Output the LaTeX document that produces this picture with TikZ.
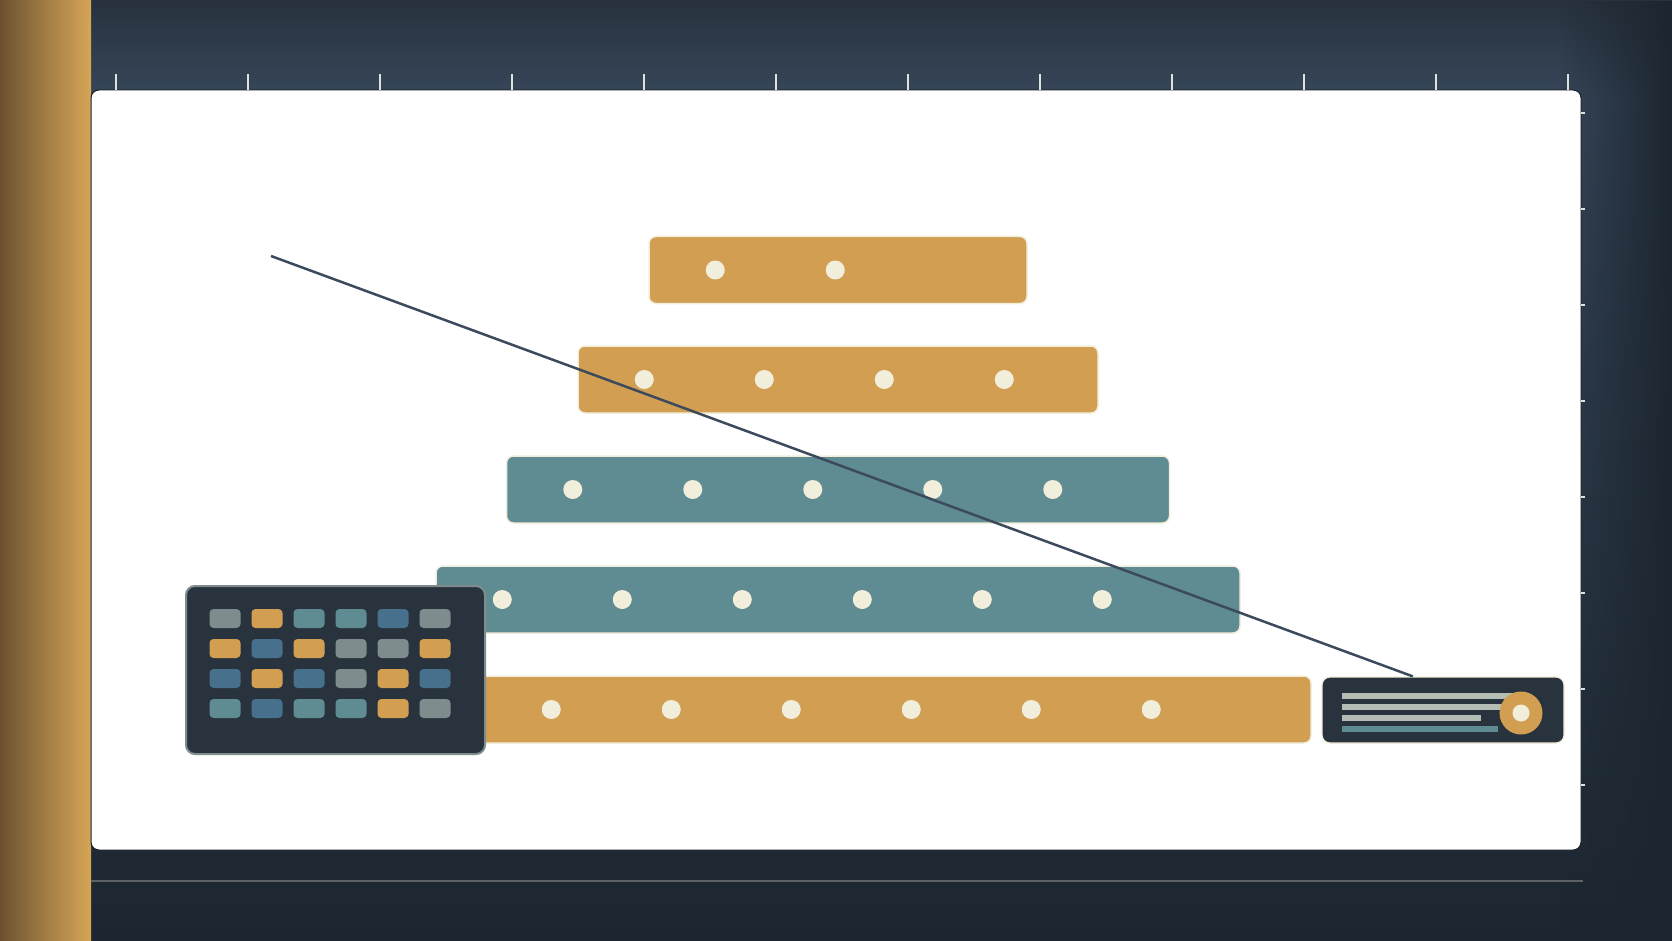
\documentclass[tikz,border=0pt]{standalone}
\usepackage{xcolor}
\usepackage{tikz}
\usetikzlibrary{calc,fadings}
\definecolor{FrameTop}{HTML}{28323E}
\definecolor{FrameMid}{HTML}{37475A}
\definecolor{FrameLow}{HTML}{1C2630}
\definecolor{GoldDark}{HTML}{6C5131}
\definecolor{GoldLight}{HTML}{D6A657}
\definecolor{BarGold}{HTML}{D29F52}
\definecolor{BarTeal}{HTML}{5F8C92}
\definecolor{SwBlue}{HTML}{46708C}
\definecolor{SwGray}{HTML}{7F8C8D}
\definecolor{Cream}{HTML}{F2EEDC}
\definecolor{CardDark}{HTML}{29333D}
\definecolor{LineSlate}{HTML}{3B4A5C}
\definecolor{RuleGray}{HTML}{5C6266}
\definecolor{TextGray}{HTML}{B4BDB4}
\definecolor{TickWhite}{HTML}{DDE3DA}
\tikzfading[name=fadeR,left color=transparent!100,right color=transparent!0]
\tikzset{
  % Base bar
  BR/.style={rectangle,rounded corners=7pt,minimum height=67pt,
             inner sep=0pt,draw=Cream,line width=1.5pt},
  % Dot on a bar
  DT/.style={circle,fill=Cream,minimum size=19pt,inner sep=0pt},
  % Colour swatch
  SW/.style={rectangle,rounded corners=4pt,minimum width=31pt,
             minimum height=19pt,inner sep=0pt},
  % Dark card
  CD/.style={rectangle,fill=CardDark,inner sep=0pt},
  % Ruler ticks
  tk/.style={draw=TickWhite,line width=2pt},
  % Trend line
  trend/.style={draw=LineSlate,line width=2.5pt}
}
\begin{document}
\begin{tikzpicture}[x=1pt,y=-1pt]
  \useasboundingbox (0,0) rectangle (1672,941);
  % frame
  \shade[top color=FrameTop,bottom color=FrameMid] (0,0) rectangle (1672,100);
  \shade[top color=FrameMid,bottom color=FrameLow] (0,100) rectangle (1672,941);
  \fill[FrameLow,path fading=fadeR] (1560,0) rectangle (1672,941);
  \shade[left color=GoldDark,right color=GoldLight] (0,0) rectangle (91,941);
  % panel
  \node[rectangle,fill=white,draw=FrameLow!80!black,line width=1pt,
        rounded corners=8pt,minimum width=1490pt,minimum height=760pt]
    (panel) at (836,470) {};
  \foreach \i in {0,...,11}
    \draw[tk] (116+132*\i,74) -- (116+132*\i,90);
  \foreach \i in {0,...,7}
    \draw[tk,line width=1.5pt] (1581,113+96*\i) -- (1585,113+96*\i);
  \draw[RuleGray,line width=2pt] (91,881) -- (1583,881);
  % bars
  \foreach \n/\y/\w/\c/\d in {b1/270/378/BarGold/2,b2/379.5/520/BarGold/4,
      b3/489.5/663/BarTeal/5,b4/599.5/804/BarTeal/6,b5/709.5/946/BarGold/7}{
    \node[BR,fill=\c,minimum width=\w pt] (\n) at (838,\y) {};
    \foreach \k in {1,...,\d}
      \node[DT] (\n-\k) at ($(\n.west)+(120*\k-53,0)$) {};
  }
  % palette card
  \node[CD,draw=SwGray,line width=2pt,rounded corners=9pt,
        minimum width=299pt,minimum height=168pt] (pal) at (335.5,670) {};
  \foreach \r/\cols in {1/{SwGray,BarGold,BarTeal,BarTeal,SwBlue,SwGray},
      2/{BarGold,SwBlue,BarGold,SwGray,SwGray,BarGold},
      3/{SwBlue,BarGold,SwBlue,SwGray,BarGold,SwBlue},
      4/{BarTeal,SwBlue,BarTeal,BarTeal,BarGold,SwGray}}
    \foreach \col [count=\ci] in \cols
      \node[SW,fill=\col] (sw-\r-\ci) at (183+42*\ci,588.5+30*\r) {};
  % legend card
  \node[CD,draw=Cream,line width=1.2pt,rounded corners=8pt,
        minimum width=242pt,minimum height=66pt] (leg) at (1443,710) {};
  \fill[TextGray] (1342,693) rectangle (1513,699);
  \fill[TextGray] (1342,704) rectangle (1513,710);
  \fill[TextGray] (1342,715) rectangle (1481,721);
  \fill[BarTeal] (1342,726) rectangle (1498,732);
  \node[circle,fill=BarGold,minimum size=43pt,inner sep=0pt] (ring) at (1521,713) {};
  \node[DT,minimum size=17pt] (ring-c) at (ring) {};
  % trend
  \coordinate (trend-s) at (271,256);
  \draw[trend] (trend-s) -- ($(leg.north west)!0.376!(leg.north east)$);
\end{tikzpicture}
\end{document}
